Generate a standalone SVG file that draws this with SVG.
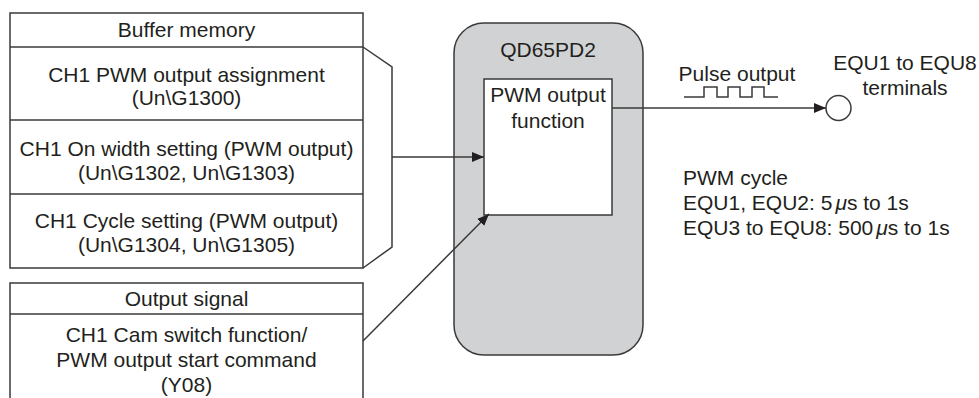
<svg xmlns="http://www.w3.org/2000/svg" width="979" height="398" viewBox="0 0 979 398">
<defs>
<style>
text{font-family:"Liberation Sans",Arial,sans-serif;font-size:21px;fill:#231f20}
.c{text-anchor:middle}
.ln{fill:none;stroke:#3a3a3a;stroke-width:1.5}
.box{fill:#fff;stroke:#3a3a3a;stroke-width:1.5}
</style>
<marker id="ah" viewBox="0 0 12 10" refX="12" refY="5" markerWidth="12" markerHeight="10" markerUnits="userSpaceOnUse" orient="auto">
<path d="M0,0 L12,5 L0,10 Z" fill="#231f20"/>
</marker>
</defs>
<rect width="979" height="398" fill="#fff"/>

<g id="buffer-memory">
<rect class="box" x="10" y="13" width="353" height="255"/>
<line class="ln" x1="10" y1="47" x2="363" y2="47"/>
<line class="ln" x1="10" y1="120" x2="363" y2="120"/>
<line class="ln" x1="10" y1="194" x2="363" y2="194"/>
<text class="c" x="186.5" y="37">Buffer memory</text>
<text class="c" x="186.5" y="82">CH1 PWM output assignment</text>
<text class="c" x="186.5" y="105">(Un\G1300)</text>
<text class="c" x="186.5" y="156">CH1 On width setting (PWM output)</text>
<text class="c" x="186.5" y="180">(Un\G1302, Un\G1303)</text>
<text class="c" x="186.5" y="228">CH1 Cycle setting (PWM output)</text>
<text class="c" x="186.5" y="252">(Un\G1304, Un\G1305)</text>
<polyline class="ln" points="363,47 392,67 392,247 363,268"/>
</g>

<g id="output-signal">
<path class="box" d="M10,400 L10,283 L363,283 L363,400"/>
<line class="ln" x1="10" y1="314" x2="363" y2="314"/>
<text class="c" x="186.5" y="306">Output signal</text>
<text class="c" x="186.5" y="342">CH1 Cam switch function/</text>
<text class="c" x="186.5" y="367">PWM output start command</text>
<text class="c" x="186.5" y="392">(Y08)</text>
</g>

<g id="qd65pd2">
<rect x="454" y="23" width="189" height="332" rx="30" ry="30" fill="#d1d2d4" stroke="#3a3a3a" stroke-width="1.5"/>
<text class="c" x="548" y="57">QD65PD2</text>
</g>

<g id="pwm-output-function">
<rect class="box" x="484" y="79" width="128" height="136"/>
<text class="c" x="548" y="102">PWM output</text>
<text class="c" x="548" y="128">function</text>
</g>

<g id="terminal">
<circle cx="838.5" cy="108" r="12.5" fill="#fff" stroke="#3a3a3a" stroke-width="1.5"/>
<text class="c" x="905" y="70">EQU1 to EQU8</text>
<text class="c" x="905" y="95">terminals</text>
</g>

<g id="pulse-label">
<text class="c" x="737" y="81">Pulse output</text>
<polyline class="ln" points="684,97 704,97 704,87 717,87 717,97 728,97 728,87 740,87 740,97 752,97 752,87 764,87 764,97 778,97"/>
</g>

<g id="pwm-cycle">
<text x="683" y="185">PWM cycle</text>
<text x="683" y="210">EQU1, EQU2: 5<tspan dx="3" font-style="italic">μ</tspan>s to 1s</text>
<text x="683" y="235">EQU3 to EQU8: 500<tspan dx="3" font-style="italic">μ</tspan>s to 1s</text>
</g>

<g id="connectors">
<line class="ln" x1="392" y1="157" x2="484" y2="157" marker-end="url(#ah)"/>
<line class="ln" x1="363" y1="341" x2="489" y2="214" marker-end="url(#ah)"/>
<line class="ln" x1="612" y1="108" x2="826" y2="108" marker-end="url(#ah)"/>
</g>
</svg>
